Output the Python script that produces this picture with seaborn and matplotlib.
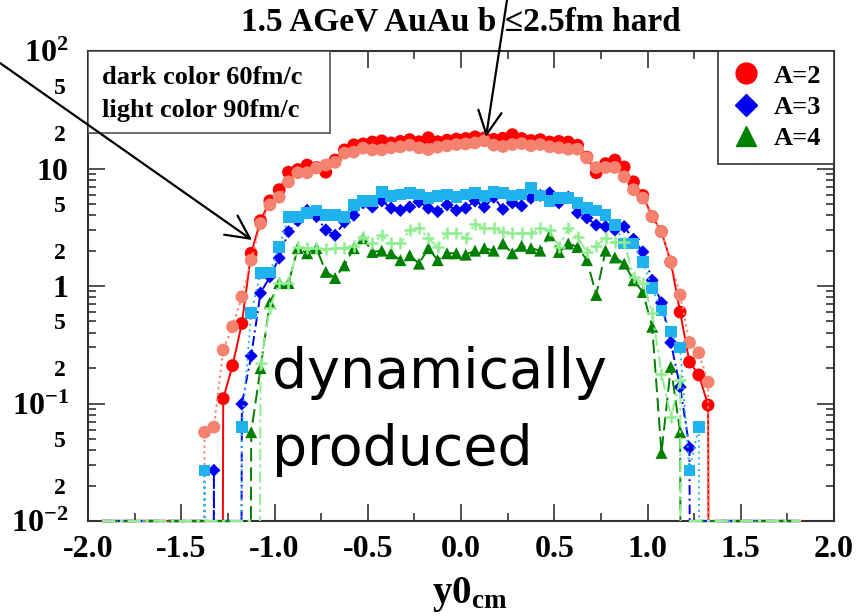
import numpy as np
import pandas as pd
import matplotlib
matplotlib.use("Agg")
import matplotlib.pyplot as plt
import seaborn as sns
from matplotlib.lines import Line2D
from matplotlib.patches import Rectangle
from matplotlib.ticker import (LogLocator, FixedLocator, FixedFormatter,
                               FuncFormatter, MultipleLocator)

# ---------------- data ----------------
title_text = "1.5 AGeV AuAu b \u22642.5fm hard"
x_label = r"$y0_{cm}$"
box_lines = ["dark color 60fm/c", "light color 90fm/c"]
legend_labels = ["A=2", "A=3", "A=4"]
big_text = ["dynamically", "produced"]
x_ticks = [-2.0, -1.5, -1.0, -0.5, 0.0, 0.5, 1.0, 1.5, 2.0]
y_major_ticks = [1e-2, 1e-1, 1, 10, 100]
y_major_labels = [r"$10^{-2}$", r"$10^{-1}$", "1", "10", r"$10^{2}$"]

# bin centres of y0_cm (0.05 wide bins)
y0_bins = np.round(np.arange(-1.925, 1.826, 0.05), 3)

pad_l = [0.0] * 10   # bins -1.925 ... -1.475 (empty)
pad_r = [0.0] * 9    # bins  1.425 ...  1.825 (empty)

# A=2, 60 fm/c (dark red)
a2_60 = pad_l + [
    0, 0, 0, 0.11, 0.21, 0.48, 1.9, 3.6, 5.3, 6.6,
    9.3, 9.8, 10.7, 10.2, 9.3, 11.8, 14.4, 15.9, 16.2, 16.8,
    17.2, 16.5, 17.0, 17.6, 16.9, 18.3, 16.9, 17.4, 17.8, 18.0,
    18.6, 18.2, 17.7, 18.1, 19.4, 18.0, 17.3, 17.6, 16.8, 17.0,
    16.8, 15.8, 12.5, 9.2, 11.0, 11.8, 10.3, 7.7, 5.9, 3.9,
    2.9, 1.6, 0.6, 0.225, 0.175, 0.097, 0] + pad_r
# A=2, 90 fm/c (light red)
a2_90 = pad_l + [
    0, 0.057, 0.063, 0.285, 0.45, 0.81, 1.66, 3.4, 4.9, 5.7,
    7.7, 9.2, 9.2, 10.1, 10.7, 11.3, 13.5, 13.8, 14.9, 14.4,
    14.4, 15.0, 15.3, 15.8, 15.0, 14.5, 15.2, 15.6, 16.0, 16.2,
    16.5, 17.2, 15.8, 15.4, 16.0, 16.3, 15.6, 16.0, 15.3, 15.0,
    14.6, 14.6, 12.3, 10.2, 10.2, 10.2, 8.5, 6.6, 5.6, 3.9,
    2.9, 1.6, 0.84, 0.33, 0.27, 0.152, 0] + pad_r
# A=3, 60 fm/c (dark blue)
a3_60 = pad_l + [
    0, 0, 0.027, 0, 0, 0.099, 0.254, 0.87, 1.2, 1.73,
    2.9, 3.6, 4.4, 3.9, 3.0, 2.7, 3.5, 4.0, 5.1, 4.7,
    5.3, 4.6, 4.4, 4.7, 5.2, 4.6, 4.3, 4.9, 4.4, 4.6,
    5.3, 4.7, 5.7, 4.5, 5.1, 4.8, 5.6, 5.9, 6.2, 5.1,
    5.7, 4.2, 3.8, 3.3, 3.2, 3.0, 3.2, 2.5, 1.95, 1.12,
    0.72, 0.33, 0.138, 0.042, 0, 0, 0] + pad_r
# A=3, 90 fm/c (light blue)
a3_90 = pad_l + [
    0, 0.027, 0, 0, 0, 0.063, 0.59, 1.29, 1.3, 2.15,
    3.87, 3.87, 4.2, 4.4, 4.0, 4.0, 3.87, 4.9, 5.3, 5.3,
    6.3, 5.8, 6.0, 6.2, 6.0, 5.6, 5.8, 6.0, 5.7, 6.0,
    6.2, 5.8, 6.3, 6.2, 5.9, 6.0, 6.8, 5.9, 5.3, 5.6,
    5.6, 5.1, 4.6, 4.4, 4.0, 3.3, 2.3, 2.3, 1.6, 0.96,
    0.62, 0.41, 0.30, 0.027, 0.063, 0, 0] + pad_r
# A=4, 60 fm/c (dark green)
a4_60 = pad_l + [
    0, 0, 0, 0, 0, 0, 0.057, 0.2, 0.72, 1.06,
    1.06, 2.1, 1.9, 2.1, 1.32, 1.17, 1.5, 2.1, 2.55, 1.95,
    2.0, 1.9, 1.66, 1.83, 1.55, 2.1, 1.66, 1.9, 1.9, 1.85,
    2.0, 2.1, 2.0, 2.3, 1.9, 2.2, 2.1, 2.0, 2.7, 1.95,
    2.3, 2.15, 1.66, 0.84, 2.0, 1.75, 1.55, 1.12, 0.89, 0.45,
    0.038, 0.205, 0.057, 0, 0, 0, 0] + pad_r
# A=4, 90 fm/c (light green)
a4_90 = pad_l + [
    0, 0, 0, 0, 0, 0, 0, 0.22, 0.65, 1.06,
    1.06, 2.15, 2.1, 2.1, 2.05, 2.1, 2.1, 2.2, 2.6, 2.3,
    2.7, 2.3, 2.3, 3.0, 3.1, 2.55, 2.15, 2.8, 2.8, 2.55,
    3.4, 3.1, 3.1, 2.9, 2.8, 2.8, 2.8, 3.1, 3.0, 2.15,
    3.1, 2.6, 1.95, 2.2, 2.55, 2.35, 2.35, 1.2, 1.06, 0.59,
    0.18, 0.077, 0.158, 0, 0, 0, 0] + pad_r

# ---------------- style ----------------
sns.set_style("ticks")
plt.rcParams["font.family"] = ["Liberation Serif", "DejaVu Serif"]
plt.rcParams["font.weight"] = "bold"
plt.rcParams["text.color"] = "black"
plt.rcParams["xtick.color"] = "#333333"
plt.rcParams["ytick.color"] = "#333333"
plt.rcParams["xtick.labelcolor"] = "black"
plt.rcParams["ytick.labelcolor"] = "black"
plt.rcParams["mathtext.fontset"] = "custom"
plt.rcParams["mathtext.rm"] = "Liberation Serif:bold"
plt.rcParams["mathtext.bf"] = "Liberation Serif:bold"
plt.rcParams["mathtext.it"] = "Liberation Serif:bold"
plt.rcParams["mathtext.default"] = "bf"
plt.rcParams["axes.unicode_minus"] = False

W, H = 868, 616
fig = plt.figure(figsize=(W / 100, H / 100), dpi=100)
fig.patch.set_facecolor("white")
L, R, T, B = 88, 834, 51, 521
ax = fig.add_axes([L / W, (H - B) / H, (R - L) / W, (B - T) / H])
ax.set_facecolor("white")
ax.set_yscale("log")
YMIN, YMAX = 1e-2, 1e2

series = [
    (a2_60, "#ff0000", "-", "o", 85),
    (a2_90, "#f4826f", (0, (1.2, 1.8)), "o", 85),
    (a3_60, "#0000f0", (0, (5, 2, 1, 2)), "D", 45),
    (a3_90, "#20b2ee", (0, (1, 2)), "s", 70),
    (a4_60, "#008000", (0, (7, 3)), "^", 75),
    (a4_90, "#90ee90", (0, (6, 2, 1.5, 2)), "+", 80),
]

z = 3
for vals, col, ls, mk, s in series:
    v = np.asarray(vals, dtype=float)
    # connecting line (empty bins fall far below the frame -> vertical drops)
    df_line = pd.DataFrame({"x": y0_bins, "y": np.where(v > 0, v, 1e-30)})
    sns.lineplot(data=df_line, x="x", y="y", ax=ax, color=col, linestyle=ls,
                 linewidth=1.4, estimator=None, sort=False, zorder=z)
    # empty bins drawn along the lower frame edge
    df_floor = pd.DataFrame({"x": y0_bins, "y": np.full(len(v), YMIN),
                             "run": np.cumsum(v > 0)})[v <= 0]
    sns.lineplot(data=df_floor, x="x", y="y", units="run", ax=ax, color=col,
                 linestyle=ls, linewidth=1.6, estimator=None, sort=False,
                 zorder=z + 5, clip_on=False)
    # markers
    df_pts = pd.DataFrame({"x": y0_bins[v > 0], "y": v[v > 0]})
    if mk == "+":
        sns.scatterplot(data=df_pts, x="x", y="y", ax=ax, marker="+", s=s,
                        color=col, linewidth=1.8, zorder=z + 1)
    else:
        sns.scatterplot(data=df_pts, x="x", y="y", ax=ax, marker=mk, s=s,
                        color=col, edgecolor="none", linewidth=0, zorder=z + 1)
    z += 2

ax.set_xlim(-2, 2)
ax.set_ylim(YMIN, YMAX)
ax.set_xlabel("")
ax.set_ylabel("")

# axes frame and ticks
for sp in ax.spines.values():
    sp.set_visible(True)
    sp.set_color("#333333")
    sp.set_linewidth(1.5)
ax.xaxis.set_major_locator(FixedLocator(x_ticks))
ax.xaxis.set_major_formatter(FixedFormatter([f"{t:.1f}" for t in x_ticks]))
ax.xaxis.set_minor_locator(MultipleLocator(0.25))
ax.yaxis.set_major_locator(FixedLocator(y_major_ticks))
ax.yaxis.set_major_formatter(FixedFormatter(y_major_labels))
ax.yaxis.set_minor_locator(LogLocator(base=10, subs=np.arange(2, 10)))


def minor_fmt(val, pos):
    m = val / 10 ** np.floor(np.log10(val) + 1e-9)
    r = int(round(m))
    return str(r) if r in (2, 5) and abs(m - r) < 1e-6 else ""


ax.yaxis.set_minor_formatter(FuncFormatter(minor_fmt))
ax.tick_params(axis="both", which="both", direction="in", top=True,
               right=True, color="#333333", width=1.2)
ax.tick_params(axis="x", which="major", length=12, labelsize=23, pad=10)
ax.tick_params(axis="x", which="minor", length=6)
ax.tick_params(axis="y", which="major", length=12, labelsize=23, pad=14)
ax.tick_params(axis="y", which="minor", length=6, labelsize=17, pad=16)
for lab in ax.get_xticklabels() + ax.get_yticklabels():
    lab.set_fontweight("bold")

# info box (top-left)
ax.add_patch(Rectangle((0, 1 - (133 - T) / (B - T)), (330 - L) / (R - L),
                       (133 - T) / (B - T), transform=ax.transAxes,
                       facecolor="white", edgecolor="#555555", lw=1.2,
                       zorder=20))
ax.text((102 - L) / (R - L), 1 - (77 - T) / (B - T), box_lines[0],
        transform=ax.transAxes, fontsize=19, fontweight="bold", va="center",
        ha="left", zorder=21)
ax.text((102 - L) / (R - L), 1 - (110 - T) / (B - T), box_lines[1],
        transform=ax.transAxes, fontsize=19, fontweight="bold", va="center",
        ha="left", zorder=21)

# legend (top-right)
handles = [
    Line2D([], [], marker="o", color="#ff0000", linestyle="none", markersize=15),
    Line2D([], [], marker="D", color="#0000f0", linestyle="none", markersize=11),
    Line2D([], [], marker="^", color="#008000", linestyle="none", markersize=14),
]
leg = ax.legend(handles, legend_labels, loc="upper right",
                bbox_to_anchor=(1, 1), borderaxespad=0, frameon=True,
                fancybox=False, edgecolor="#333333", framealpha=1,
                prop={"family": "Liberation Serif", "weight": "bold",
                      "size": 19},
                handlelength=1.1, handletextpad=0.5, labelspacing=0.3,
                borderpad=0.5)
leg.get_frame().set_linewidth(1.2)
leg.set_zorder(30)

# title, axis label, big annotation text
fig.text(461 / W, 1 - 22 / H, title_text, ha="center", va="center",
         fontsize=24, fontweight="bold", color="black")
fig.text(470 / W, 1 - 594 / H, x_label, ha="center", va="center",
         fontsize=28, color="black")
fig.text(272 / W, 1 - 388 / H, big_text[0], ha="left", va="baseline",
         fontsize=40, family="DejaVu Sans", fontweight="normal",
         color="black", zorder=40)
fig.text(272 / W, 1 - 465 / H, big_text[1], ha="left", va="baseline",
         fontsize=40, family="DejaVu Sans", fontweight="normal",
         color="black", zorder=40)

# arrows (drawn on the figure, crossing the frame)
arrow_kw = dict(arrowstyle="->,head_length=0.6,head_width=0.3", lw=1.6,
                color="black", mutation_scale=28, shrinkA=0, shrinkB=0)
ax.annotate("", xy=(252, H - 240), xytext=(0, H - 63),
            xycoords="figure pixels", textcoords="figure pixels",
            arrowprops=arrow_kw, annotation_clip=False, zorder=50)
ax.annotate("", xy=(486, H - 137), xytext=(507, H),
            xycoords="figure pixels", textcoords="figure pixels",
            arrowprops=arrow_kw, annotation_clip=False, zorder=50)

fig.savefig("out.png", dpi=100, facecolor="white")
